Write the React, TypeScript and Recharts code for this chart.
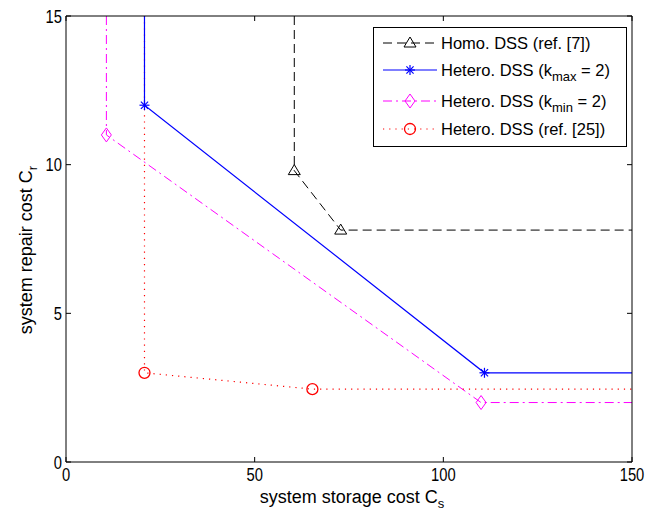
import React from 'react';
import { LineChart, Line, XAxis, YAxis } from 'recharts';

// Homo. DSS (ref. [7])
const homoX = [60.5, 60.5, 72.8, 150];
const homoY = [15, 9.8, 7.8, 7.8];
// Hetero. DSS (kmax = 2)
const kmaxX = [20.8, 20.8, 110.9, 150];
const kmaxY = [15, 12, 3, 3];
// Hetero. DSS (kmin = 2)
const kminX = [10.7, 10.7, 110, 150];
const kminY = [15, 11, 2, 2];
// Hetero. DSS (ref. [25])
const ref25X = [20.8, 20.8, 65.3, 150];
const ref25Y = [15, 3, 2.45, 2.45];

const xTicks = [0, 50, 100, 150];
const yTicks = [0, 5, 10, 15];

const toPts = (xs: number[], ys: number[]) => xs.map((x, i) => ({ x, y: ys[i] }));

const FONT = '"Liberation Sans", Arial, Helvetica, sans-serif';

type Kind = 'tri' | 'star' | 'diamond' | 'circle';

const Marker = ({ kind, cx, cy, color }: { kind: Kind; cx: number; cy: number; color: string }) => {
  if (kind === 'tri') {
    return (
      <polygon
        points={`${cx},${cy - 6} ${cx - 6},${cy + 4} ${cx + 6},${cy + 4}`}
        fill="none"
        stroke={color}
        strokeWidth={1}
      />
    );
  }
  if (kind === 'star') {
    const r = 5;
    const d = 3.6;
    return (
      <g stroke={color} strokeWidth={1.2}>
        <line x1={cx - r} y1={cy} x2={cx + r} y2={cy} />
        <line x1={cx} y1={cy - r} x2={cx} y2={cy + r} />
        <line x1={cx - d} y1={cy - d} x2={cx + d} y2={cy + d} />
        <line x1={cx - d} y1={cy + d} x2={cx + d} y2={cy - d} />
      </g>
    );
  }
  if (kind === 'diamond') {
    return (
      <polygon
        points={`${cx},${cy - 7} ${cx + 5},${cy} ${cx},${cy + 7} ${cx - 5},${cy}`}
        fill="none"
        stroke={color}
        strokeWidth={1}
      />
    );
  }
  return <circle cx={cx} cy={cy} r={5.5} fill="none" stroke={color} strokeWidth={1.3} />;
};

const makeDot = (kind: Kind, color: string, n: number) => (props: any) => {
  const { cx, cy, index } = props;
  if (index === 0 || index === n - 1 || cx == null || cy == null) {
    return <g key={`${kind}-${index}`} />;
  }
  return (
    <g key={`${kind}-${index}`}>
      <Marker kind={kind} cx={cx} cy={cy} color={color} />
    </g>
  );
};

const TL = 5;
const SX = 0.82;

const BottomTick = (props: any) => {
  const { x, y, payload } = props;
  return (
    <g>
      <line x1={x} x2={x} y1={y} y2={y - TL} stroke="#000" strokeWidth={1} />
      <text
        transform={`translate(${x},${y + 19}) scale(${SX},1)`}
        textAnchor="middle"
        fontFamily={FONT}
        fontSize={18}
        fill="#000"
      >
        {payload.value}
      </text>
    </g>
  );
};

const LeftTick = (props: any) => {
  const { x, y, payload } = props;
  return (
    <g>
      <line x1={x} x2={x + TL} y1={y} y2={y} stroke="#000" strokeWidth={1} />
      <text
        transform={`translate(${x - 4},${y + 6.5}) scale(${SX},1)`}
        textAnchor="end"
        fontFamily={FONT}
        fontSize={18}
        fill="#000"
      >
        {payload.value}
      </text>
    </g>
  );
};

const TopTick = (props: any) => {
  const { x, y } = props;
  return <line x1={x} x2={x} y1={y} y2={y + TL} stroke="#000" strokeWidth={1} />;
};

const RightTick = (props: any) => {
  const { x, y } = props;
  return <line x1={x} x2={x - TL} y1={y} y2={y} stroke="#000" strokeWidth={1} />;
};

const legendRows = [
  { kind: 'tri' as Kind, color: '#000000', dash: '9 5', main: 'Homo. DSS (ref. [7])', sub: '', tail: '', y: 43 },
  { kind: 'star' as Kind, color: '#0000ff', dash: undefined, main: 'Hetero. DSS (k', sub: 'max', tail: ' = 2)', y: 70 },
  { kind: 'diamond' as Kind, color: '#ff00ff', dash: '9 4 2 4', main: 'Hetero. DSS (k', sub: 'min', tail: ' = 2)', y: 101 },
  { kind: 'circle' as Kind, color: '#ff0000', dash: '1.2 5', main: 'Hetero. DSS (ref. [25])', sub: '', tail: '', y: 129 },
];

export default function App() {
  const homo = toPts(homoX, homoY);
  const kmax = toPts(kmaxX, kmaxY);
  const kmin = toPts(kminX, kminY);
  const ref25 = toPts(ref25X, ref25Y);

  return (
    <div style={{ position: 'absolute', left: 0, top: 0, width: 645, height: 510, background: '#fff', overflow: 'hidden' }}>
      <LineChart width={645} height={510} margin={{ top: 15, right: 12, bottom: 18, left: 26 }}>
        <XAxis
          xAxisId="b"
          type="number"
          dataKey="x"
          domain={[0, 150]}
          ticks={xTicks}
          interval={0}
          allowDataOverflow
          orientation="bottom"
          height={30}
          tickSize={0}
          tickMargin={0}
          tickLine={false}
          axisLine={{ stroke: '#000', strokeWidth: 1 }}
          tick={<BottomTick />}
        />
        <XAxis
          xAxisId="t"
          type="number"
          dataKey="x"
          domain={[0, 150]}
          ticks={xTicks}
          interval={0}
          allowDataOverflow
          orientation="top"
          height={1}
          tickSize={0}
          tickMargin={0}
          tickLine={false}
          axisLine={{ stroke: '#000', strokeWidth: 1 }}
          tick={<TopTick />}
        />
        <YAxis
          yAxisId="l"
          type="number"
          dataKey="y"
          domain={[0, 15]}
          ticks={yTicks}
          interval={0}
          allowDataOverflow
          orientation="left"
          width={40}
          tickSize={0}
          tickMargin={0}
          tickLine={false}
          axisLine={{ stroke: '#000', strokeWidth: 1 }}
          tick={<LeftTick />}
        />
        <YAxis
          yAxisId="r"
          type="number"
          dataKey="y"
          domain={[0, 15]}
          ticks={yTicks}
          interval={0}
          allowDataOverflow
          orientation="right"
          width={1}
          tickSize={0}
          tickMargin={0}
          tickLine={false}
          axisLine={{ stroke: '#000', strokeWidth: 1 }}
          tick={<RightTick />}
        />
        <Line
          xAxisId="b"
          yAxisId="l"
          data={homo}
          dataKey="y"
          stroke="#000000"
          strokeWidth={1}
          strokeDasharray="9 5"
          dot={makeDot('tri', '#000000', homo.length)}
          activeDot={false}
          isAnimationActive={false}
        />
        <Line
          xAxisId="b"
          yAxisId="l"
          data={kmin}
          dataKey="y"
          stroke="#ff00ff"
          strokeWidth={1}
          strokeDasharray="9 4 2 4"
          dot={makeDot('diamond', '#ff00ff', kmin.length)}
          activeDot={false}
          isAnimationActive={false}
        />
        <Line
          xAxisId="b"
          yAxisId="l"
          data={ref25}
          dataKey="y"
          stroke="#ff0000"
          strokeWidth={1.2}
          strokeDasharray="1.2 5"
          dot={makeDot('circle', '#ff0000', ref25.length)}
          activeDot={false}
          isAnimationActive={false}
        />
        <Line
          xAxisId="b"
          yAxisId="l"
          data={kmax}
          dataKey="y"
          stroke="#0000ff"
          strokeWidth={1.2}
          dot={makeDot('star', '#0000ff', kmax.length)}
          activeDot={false}
          isAnimationActive={false}
        />
      </LineChart>
      <svg
        width={645}
        height={510}
        style={{ position: 'absolute', left: 0, top: 0, pointerEvents: 'none' }}
        fontFamily={FONT}
      >
        <text x={352} y={503} textAnchor="middle" fontSize={18} fill="#000">
          system storage cost C
          <tspan fontSize={13} dy={5}>s</tspan>
        </text>
        <text
          x={0}
          y={0}
          transform="translate(32,250) rotate(-90)"
          textAnchor="middle"
          fontSize={18}
          fill="#000"
        >
          system repair cost C
          <tspan fontSize={13} dy={5}>r</tspan>
        </text>
        <rect x={373.5} y={27.5} width={253} height={119} fill="#fff" stroke="#000" strokeWidth={1} />
        {legendRows.map((r, i) => (
          <g key={i}>
            <line x1={383} x2={437} y1={r.y} y2={r.y} stroke={r.color} strokeWidth={r.kind === 'star' ? 1.2 : 1} strokeDasharray={r.dash} />
            <Marker kind={r.kind} cx={410} cy={r.y} color={r.color} />
            <text x={441} y={r.y + 6} fontSize={16.5} fill="#000">
              {r.main}
              {r.sub ? (
                <>
                  <tspan fontSize={13} dy={5}>{r.sub}</tspan>
                  <tspan dy={-5}>{r.tail}</tspan>
                </>
              ) : null}
            </text>
          </g>
        ))}
      </svg>
    </div>
  );
}
